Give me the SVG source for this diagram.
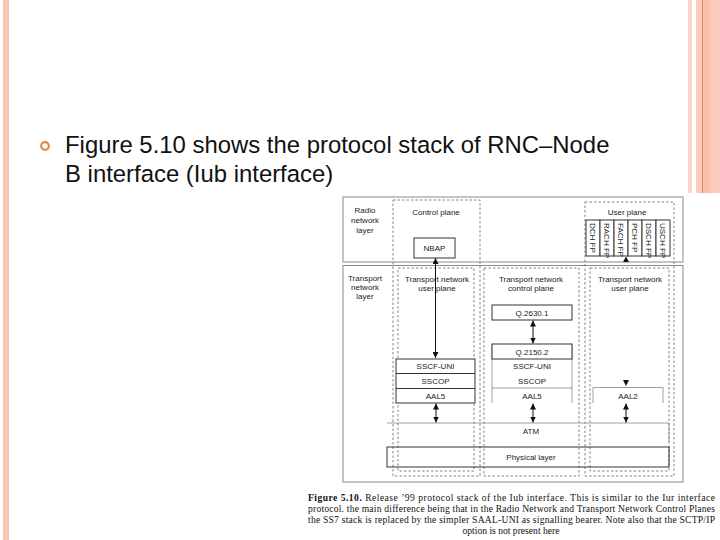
<svg xmlns="http://www.w3.org/2000/svg" width="720" height="540" viewBox="0 0 720 540">
<defs>
<marker id="ah" viewBox="0 0 6 6" refX="6" refY="3" markerWidth="6" markerHeight="6" markerUnits="userSpaceOnUse" orient="auto-start-reverse"><path d="M0,0 L6,3 L0,6 z" fill="#111"/></marker>
</defs>
<style>
.frame{fill:none;stroke:#8a8a8a;stroke-width:1}
.dash{fill:none;stroke:#666;stroke-width:0.8;stroke-dasharray:2.5,2}
.box{fill:#fff;stroke:#333;stroke-width:1}
.thin{fill:none;stroke:#888;stroke-width:0.8}
.lbl{font-family:"Liberation Sans",Arial,sans-serif;font-size:8px;fill:#222;text-anchor:middle}
.con{stroke:#111;stroke-width:1;fill:none}
.cap{font-family:"Liberation Serif","Times New Roman",serif;font-size:9.6px;fill:#111}
.title{font-family:"Liberation Sans",Arial,sans-serif;font-size:23.9px;fill:#111}
</style>
<rect width="720" height="540" fill="#fff"/>
<!-- slide borders -->
<rect x="3" y="0" width="6" height="540" fill="#f9c7b4"/>
<rect x="688" y="0" width="4" height="540" fill="#fbd5c6"/>
<rect x="696" y="0" width="6" height="540" fill="#fbcdb9"/>
<rect x="702" y="0" width="1.2" height="540" fill="#d98d68"/>
<rect x="703" y="0" width="7" height="540" fill="#fdbfa6"/>
<rect x="710" y="0" width="10" height="540" fill="#fdcbbb"/>
<!-- figure background covering the right border -->
<rect x="305" y="193" width="415" height="347" fill="#fff"/>
<!-- bullet text -->
<g id="bullet">
<circle cx="45" cy="146" r="3.8" fill="none" stroke="#e08a45" stroke-width="2.2"/>
<text class="title" x="65" y="153">Figure 5.10 shows the protocol stack of RNC–Node</text>
<text class="title" x="65" y="182">B interface (Iub interface)</text>
</g>
<!-- figure frame -->
<g id="frame">
<rect class="frame" x="343" y="197" width="340" height="65"/>
<rect class="frame" x="343" y="265.5" width="340" height="216.5"/>
</g>
<g id="layer-labels">
<text class="lbl" x="365" y="213">Radio</text>
<text class="lbl" x="365" y="223">network</text>
<text class="lbl" x="365" y="233">layer</text>
<text class="lbl" x="365" y="281">Transport</text>
<text class="lbl" x="365" y="290">network</text>
<text class="lbl" x="365" y="299">layer</text>
</g>
<g id="control-plane">
<rect class="dash" x="393" y="200" width="87" height="276"/>
<text class="lbl" x="436" y="215">Control plane</text>
</g>
<g id="tn-user-plane-left">
<rect class="dash" x="398" y="268" width="76" height="203"/>
<text class="lbl" x="437" y="282">Transport network</text>
<text class="lbl" x="437" y="291">user plane</text>
</g>
<g id="tn-control-plane">
<rect class="dash" x="484" y="268" width="95" height="208"/>
<text class="lbl" x="531" y="282">Transport network</text>
<text class="lbl" x="531" y="291">control plane</text>
</g>
<g id="user-plane">
<rect class="dash" x="585" y="202" width="89" height="274"/>
<text class="lbl" x="627" y="215">User plane</text>
</g>
<g id="tn-user-plane-right">
<rect class="dash" x="590" y="268" width="79" height="203"/>
<text class="lbl" x="630" y="282">Transport network</text>
<text class="lbl" x="630" y="291">user plane</text>
</g>
<g id="nbap">
<rect class="box" x="414" y="238" width="41" height="20"/>
<text class="lbl" x="434.5" y="251">NBAP</text>
</g>
<g id="fp-boxes">
<rect class="box" x="586" y="220" width="14" height="36"/>
<rect class="box" x="600" y="220" width="14" height="36"/>
<rect class="box" x="614" y="220" width="14" height="36"/>
<rect class="box" x="628" y="220" width="14" height="36"/>
<rect class="box" x="642" y="220" width="14" height="36"/>
<rect class="box" x="656" y="220" width="14" height="36"/>
<text class="lbl" style="text-anchor:start" transform="translate(590.2,223) rotate(90)">DCH FP</text>
<text class="lbl" style="text-anchor:start" transform="translate(604.2,223) rotate(90)">RACH FP</text>
<text class="lbl" style="text-anchor:start" transform="translate(618.2,223) rotate(90)">FACH FP</text>
<text class="lbl" style="text-anchor:start" transform="translate(632.2,223) rotate(90)">PCH FP</text>
<text class="lbl" style="text-anchor:start" transform="translate(646.2,223) rotate(90)">DSCH FP</text>
<text class="lbl" style="text-anchor:start" transform="translate(660.2,223) rotate(90)">USCH FP</text>
</g>
<g id="saal-left">
<rect class="box" x="396" y="359" width="79" height="44"/>
<line class="box" x1="396" y1="373.5" x2="475" y2="373.5"/>
<line class="box" x1="396" y1="388.5" x2="475" y2="388.5"/>
<text class="lbl" x="435.5" y="369">SSCF-UNI</text>
<text class="lbl" x="435.5" y="384">SSCOP</text>
<text class="lbl" x="435.5" y="399">AAL5</text>
</g>
<g id="q2630">
<rect class="box" x="492" y="305" width="80" height="15"/>
<text class="lbl" x="532" y="315.5">Q.2630.1</text>
</g>
<g id="saal-mid">
<path class="thin" d="M492,344 V403 M572,344 V403"/>
<rect class="box" x="492" y="344" width="80" height="15"/>
<line class="thin" x1="492" y1="388" x2="572" y2="388"/>
<text class="lbl" x="532" y="354.5">Q.2150.2</text>
<text class="lbl" x="532" y="369">SSCF-UNI</text>
<text class="lbl" x="532" y="384">SSCOP</text>
<text class="lbl" x="532" y="399">AAL5</text>
</g>
<g id="aal2">
<path class="thin" d="M593,403 V387.5 H663 V403"/>
<text class="lbl" x="628" y="399">AAL2</text>
</g>
<g id="atm">
<path class="thin" d="M387,423 H669 V442"/>
<text class="lbl" x="531" y="434">ATM</text>
</g>
<g id="physical">
<rect fill="none" stroke="#333" stroke-width="1" x="387" y="447" width="282" height="20"/>
<text class="lbl" x="531" y="460">Physical layer</text>
</g>
<g id="connectors">
<line class="con" x1="435.5" y1="258" x2="435.5" y2="358" marker-start="url(#ah)" marker-end="url(#ah)"/>
<line class="con" x1="533" y1="320.5" x2="533" y2="343.5" marker-start="url(#ah)" marker-end="url(#ah)"/>
<line class="con" x1="436" y1="403.5" x2="436" y2="422.5" marker-start="url(#ah)" marker-end="url(#ah)"/>
<line class="con" x1="533" y1="403.5" x2="533" y2="422.5" marker-start="url(#ah)" marker-end="url(#ah)"/>
<line class="con" x1="626" y1="403.5" x2="626" y2="422.5" marker-start="url(#ah)" marker-end="url(#ah)"/>
<path d="M626,256.5 L629,262 L623,262 z" fill="#111"/>
<path d="M623,380 L629,380 L626,386 z" fill="#111"/>
</g>
<g id="caption">
<text class="cap" x="308" y="501" textLength="407" lengthAdjust="spacing"><tspan font-weight="bold">Figure 5.10.</tspan> Release ’99 protocol stack of the Iub interface. This is similar to the Iur interface</text>
<text class="cap" x="308" y="512" textLength="407" lengthAdjust="spacing">protocol. the main difference being that in the Radio Network and Transport Network Control Planes</text>
<text class="cap" x="308" y="523" textLength="407" lengthAdjust="spacing">the SS7 stack is replaced by the simpler SAAL-UNI as signalling bearer. Note also that the SCTP/IP</text>
<text class="cap" x="511" y="534" text-anchor="middle">option is not present here</text>
</g>
</svg>
